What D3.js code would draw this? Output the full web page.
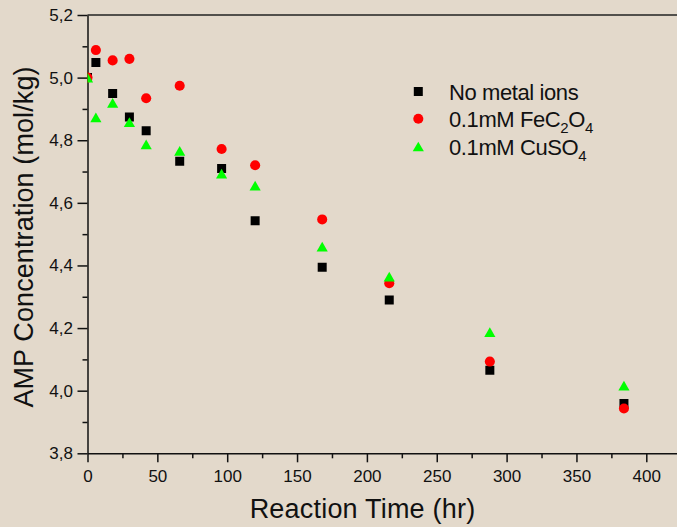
<!DOCTYPE html>
<html>
<head>
<meta charset="utf-8">
<script src="https://cdn.jsdelivr.net/npm/d3@7"></script>
<style>
  body { margin: 0; background: #e3d9cb; }
  text { font-family: "Liberation Sans", Arial, sans-serif; fill: #111; }
</style>
</head>
<body>
<div id="chart"></div>
<script>
// values
const time = [0, 6, 18, 30, 42, 66, 96, 120, 168, 216, 288, 384];
const noMetal = [5.0, 5.048, 4.949, 4.874, 4.830, 4.733, 4.710, 4.543, 4.394, 4.290, 4.065, 3.959];
const feC2O4 = [5.0, 5.088, 5.055, 5.060, 4.934, 4.974, 4.772, 4.720, 4.547, 4.343, 4.093, 3.943];
const cuSO4 = [5.0, 4.873, 4.919, 4.858, 4.787, 4.766, 4.693, 4.655, 4.460, 4.364, 4.187, 4.016];

const xTicks = [0, 50, 100, 150, 200, 250, 300, 350, 400];
const xMinor = [25, 75, 125, 175, 225, 275, 325, 375, 425];
const yTicks = [3.8, 4.0, 4.2, 4.4, 4.6, 4.8, 5.0, 5.2];
const yMinor = [3.9, 4.1, 4.3, 4.5, 4.7, 4.9, 5.1];

const width = 677, height = 527;
const plotLeft = 87.5, plotTop = 15, plotBottom = 453.3;

// triangle centred on its bounding box (Origin style)
const triangleBox = {
  draw(ctx, size) {
    const s = Math.sqrt(size), h = s * 0.87;
    ctx.moveTo(0, -h / 2);
    ctx.lineTo(s / 2, h / 2);
    ctx.lineTo(-s / 2, h / 2);
    ctx.closePath();
  }
};

const series = [
  {name: "No metal ions", values: noMetal, color: "#000000", type: d3.symbolSquare, size: 81},
  {name: "0.1mM FeC", sub: [["2", "O"], ["4", ""]], values: feC2O4, color: "#ff0000", type: d3.symbolCircle, size: 80},
  {name: "0.1mM CuSO", sub: [["4", ""]], values: cuSO4, color: "#00ff00", type: triangleBox, size: 125}
];

const svg = d3.select("#chart").append("svg")
  .attr("width", width)
  .attr("height", height);

svg.append("rect").attr("width", width).attr("height", height).attr("fill", "#e3d9cb");

let x = d3.scaleLinear().domain([0, 440]).range([plotLeft, plotLeft + 440 * 1.397]);
let y = d3.scaleLinear().domain([3.8, 5.2]).range([plotBottom, plotTop]);

svg.append("clipPath").attr("id", "plot")
  .append("rect").attr("x", plotLeft).attr("y", plotTop)
  .attr("width", width - plotLeft).attr("height", plotBottom - plotTop);

// top frame line
svg.append("line")
  .attr("x1", plotLeft).attr("x2", width + 10)
  .attr("y1", plotTop).attr("y2", plotTop)
  .attr("stroke", "#222").attr("stroke-width", 1.4);

const fmt = d => d3.format(".1f")(d).replace(".", ",");

// y axis
svg.append("g")
  .attr("transform", "translate(" + plotLeft + ",0)")
  .call(d3.axisLeft(y).tickValues(yTicks).tickFormat(fmt).tickSize(10).tickSizeOuter(0).tickPadding(4.5))
  .call(g => g.selectAll("text").attr("font-size", 17));
svg.append("g")
  .attr("transform", "translate(" + plotLeft + ",0)")
  .call(d3.axisLeft(y).tickValues(yMinor).tickFormat("").tickSize(5).tickSizeOuter(0))
  .call(g => g.select(".domain").remove());

// x axis
svg.append("g")
  .attr("transform", "translate(0," + plotBottom + ")")
  .call(d3.axisBottom(x).tickValues(xTicks).tickSize(9).tickSizeOuter(0).tickPadding(7.5))
  .call(g => g.selectAll("text").attr("font-size", 17));
svg.append("g")
  .attr("transform", "translate(0," + plotBottom + ")")
  .call(d3.axisBottom(x).tickValues(xMinor).tickFormat("").tickSize(5).tickSizeOuter(0))
  .call(g => g.select(".domain").remove());

svg.selectAll(".domain, .tick line").attr("stroke", "#111").attr("stroke-width", 1.5);
svg.selectAll(".tick text").attr("fill", "#111").attr("font-family", "Liberation Sans, Arial, sans-serif");

// axis titles
svg.append("text")
  .attr("x", 362.5).attr("y", 518)
  .attr("text-anchor", "middle")
  .attr("font-size", 27)
  .attr("letter-spacing", 0.2)
  .text("Reaction Time (hr)");

svg.append("text")
  .attr("transform", "translate(33,237) rotate(-90)")
  .attr("text-anchor", "middle")
  .attr("font-size", 27)
  .attr("letter-spacing", 0.1)
  .text("AMP Concentration (mol/kg)");

// points
const plot = svg.append("g").attr("clip-path", "url(#plot)");
series.forEach(s => {
  plot.selectAll(null)
    .data(time.map((t, i) => [t, s.values[i]]))
    .join("path")
    .attr("transform", d => "translate(" + x(d[0]) + "," + y(d[1]) + ")")
    .attr("d", d3.symbol(s.type, s.size))
    .attr("fill", s.color);
});

// legend
const legendRows = [100, 127.3, 155];
series.forEach((s, i) => {
  svg.append("path")
    .attr("transform", "translate(418.3," + (legendRows[i] - 8.5) + ")")
    .attr("d", d3.symbol(s.type, s.size))
    .attr("fill", s.color);
  let t = svg.append("text")
    .attr("x", 449).attr("y", legendRows[i])
    .attr("font-size", 22)
    .attr("letter-spacing", -0.4);
  t.append("tspan").text(s.name);
  (s.sub || []).forEach(p => {
    t.append("tspan").attr("dy", 6).attr("font-size", 15).text(p[0]);
    if (p[1]) t.append("tspan").attr("dy", -6).text(p[1]);
  });
});
</script>
</body>
</html>
